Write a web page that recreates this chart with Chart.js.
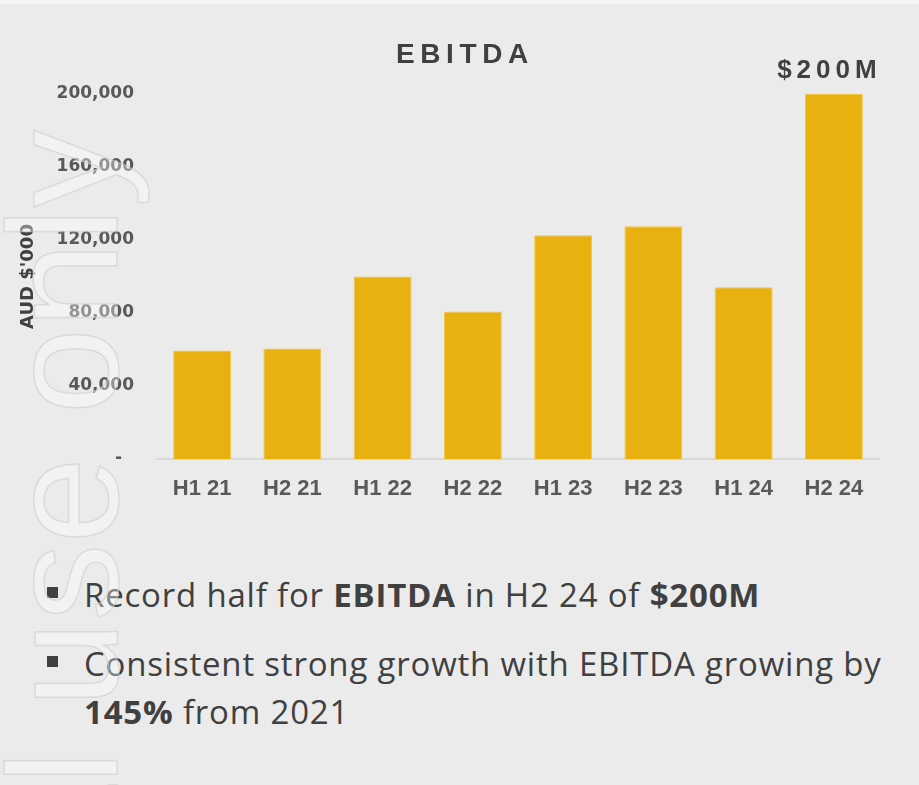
<!DOCTYPE html>
<html lang="en">
<head>
  <meta charset="UTF-8">
  <title>EBITDA</title>
  <script src="https://cdn.jsdelivr.net/npm/chart.js"></script>
  <style>
    body { margin: 0; background: #ebebeb; }
    #page { position: relative; width: 919px; height: 785px; overflow: hidden; background: #ebebeb; }
    #topStrip { position: absolute; left: 0; top: 0; width: 919px; height: 4px; background: #f4f4f4; }
    #chart { position: absolute; left: 0; top: 0; }
    #title {
      position: absolute; left: 396px; top: 40px;
      font: bold 28px "Liberation Sans", Arial, sans-serif; line-height: 28px;
      letter-spacing: 5.6px; color: #404040; white-space: nowrap;
    }
    .bullet { position: absolute; left: 47px; width: 11px; height: 11px; background: #404040; }
    .para {
      position: absolute; left: 84px; font: 33px "Open Sans", sans-serif; line-height: 48px;
      letter-spacing: 0.8px; color: #404040; white-space: nowrap;
    }
    #watermark {
      position: absolute; left: -14px; top: 1730px; width: 1600px; text-align: right;
      white-space: nowrap; font: 155px "Liberation Sans", Arial, sans-serif; line-height: 155px;
      transform-origin: 0 0; transform: rotate(-90deg);
      color: rgba(255,255,255,0.35); -webkit-text-stroke: 1.5px rgba(205,205,205,0.6);
      pointer-events: none;
    }
  </style>
</head>
<body>
  <div id="page">
    <div id="topStrip"></div>
    <canvas id="chart" width="919" height="530"></canvas>
    <div id="title">EBITDA</div>

    <!-- Commentary -->
    <div class="bullet" style="top:587px"></div>
    <div class="para" style="top:571px">Record half for <b>EBITDA</b> in H2 24 of <b>$200M</b></div>
    <div class="bullet" style="top:656px"></div>
    <div class="para" style="top:640px">Consistent strong growth with EBITDA growing by<br><b>145%</b> from 2021</div>

    <div id="watermark">For personal use only</div>
  </div>

  <script>
    // Data
    const periods = ['H1 21', 'H2 21', 'H1 22', 'H2 22', 'H1 23', 'H2 23', 'H1 24', 'H2 24'];
    const ebitda = [59500, 60500, 100000, 80800, 122600, 127500, 94100, 200000];
    const barLabels = [null, null, null, null, null, null, null, '$200M'];
    const yTicks = [0, 40000, 80000, 120000, 160000, 200000];
    const yTickLabels = ['-  ', '40,000', '80,000', '120,000', '160,000', '200,000'];

    // draws the letter-spaced value label above the bar
    const barLabelPlugin = {
      id: 'barLabel',
      afterDatasetsDraw(chart) {
        const ctx = chart.ctx;
        const meta = chart.getDatasetMeta(0);
        ctx.save();
        ctx.font = 'bold 26px "Liberation Sans", Arial, sans-serif';
        ctx.fillStyle = '#404040';
        ctx.textBaseline = 'middle';
        ctx.textAlign = 'left';
        ctx.letterSpacing = '5px';
        barLabels.forEach((txt, i) => {
          if (!txt) return;
          const bar = meta.data[i];
          const w = ctx.measureText(txt).width - 5;
          ctx.fillText(txt, bar.x - 7 - w / 2, bar.y - 23);
        });
        ctx.restore();
      }
    };

    new Chart(document.getElementById('chart'), {
      type: 'bar',
      data: {
        labels: periods,
        datasets: [{
          data: ebitda,
          backgroundColor: '#e8b10f',
          borderColor: '#f1c647',
          borderWidth: 1,
          categoryPercentage: 1,
          barPercentage: 0.642
        }]
      },
      options: {
        responsive: false,
        devicePixelRatio: 1,
        animation: false,
        layout: { padding: { top: 94, right: 40, left: 0, bottom: 0 } },
        plugins: {
          legend: { display: false },
          tooltip: { enabled: false },
          title: { display: false }
        },
        scales: {
          x: {
            afterFit: s => { s.height = 71; },
            grid: { display: false, drawTicks: false },
            border: { display: true, color: '#d9d9d9', width: 2 },
            ticks: {
              color: '#595959',
              padding: 17,
              font: { family: '"Liberation Sans", Arial, sans-serif', size: 22, weight: 'bold' }
            }
          },
          y: {
            min: 0,
            max: 200000,
            afterFit: s => { s.width = 157; },
            afterBuildTicks: s => { s.ticks = yTicks.map(v => ({ value: v })); },
            grid: { display: false, drawTicks: false },
            border: { display: false },
            ticks: {
              color: '#595959',
              padding: 23,
              font: { family: '"DejaVu Sans", sans-serif', size: 17, weight: 'bold' },
              callback: (v) => yTickLabels[yTicks.indexOf(v)]
            },
            title: {
              display: true,
              text: "AUD $'000",
              color: '#404040',
              padding: { top: 18, bottom: 0 },
              font: { family: '"DejaVu Sans", sans-serif', size: 18, weight: 'bold' }
            }
          }
        }
      },
      plugins: [barLabelPlugin]
    });
  </script>
</body>
</html>
